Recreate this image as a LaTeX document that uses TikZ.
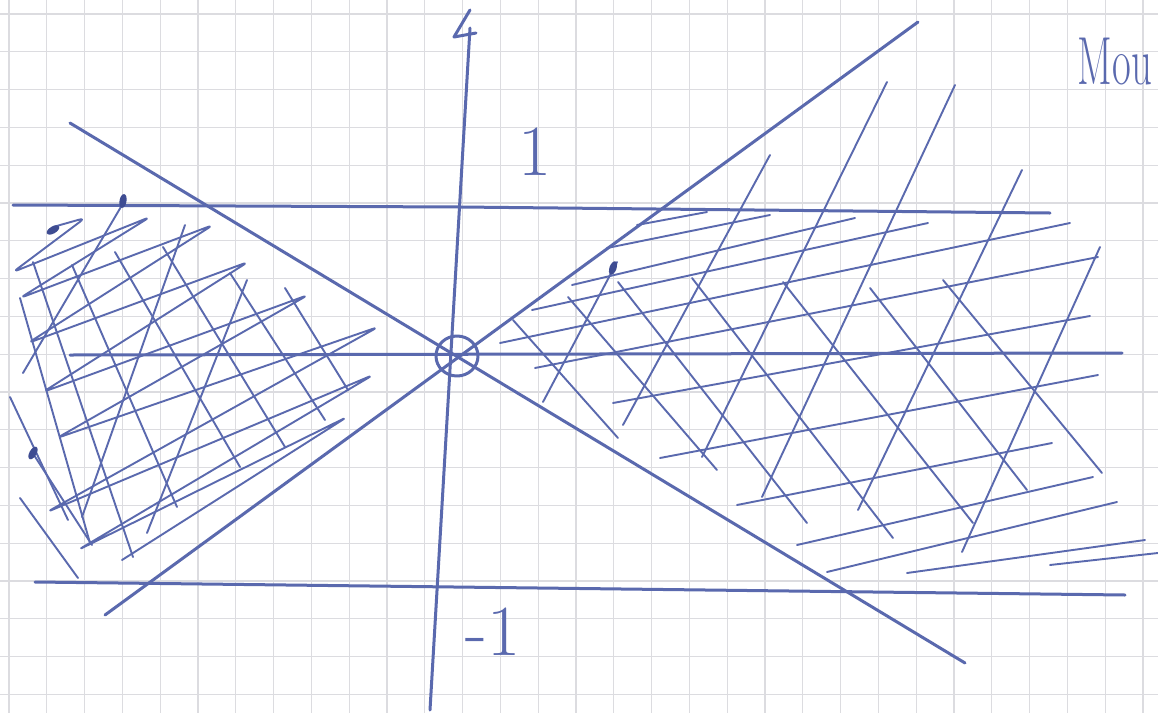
\documentclass[tikz,border=0pt]{standalone}
\usepackage{tikz}
\usetikzlibrary{calc}
\definecolor{ink}{HTML}{5A69AE}
\definecolor{inkd}{HTML}{3E4C92}
\definecolor{sheet}{HTML}{DCDCE0}

\begin{document}
\begin{tikzpicture}[x=0.5pt,y=-0.5pt,
  grid/.style={draw=sheet,line width=0.6pt},
  pen/.style={draw=ink,line width=1.5pt,line cap=round,line join=round},
  hatch/.style={draw=ink,line width=0.95pt,line cap=round,line join=round},
  blot/.style={fill=inkd},
  hand/.style={text=ink,inner sep=0pt}]
\useasboundingbox (0,0) rectangle (1158,713);
% squared paper
\fill[white] (0,0) rectangle (1158,713);
\foreach \i in {0,...,30} \draw[grid] ({9+37.8*\i},0) -- ({9+37.8*\i},713);
\foreach \j in {0,...,18} \draw[grid] (0,{14+37.8*\j}) -- (1158,{14+37.8*\j});
% vertical axis with its hand-made tip
\draw[pen] (430,710) -- (470,28);
\draw[pen] (470,10) -- (454,37) -- (476,33);
% the lines y=1, y=0, y=-1
\draw[pen] (13,205) -- (460,207) -- (1050,213);
\draw[pen] (70,355) -- (1122,353);
\draw[pen] (35,582) -- (1125,595);
% the two diagonals through the origin
\draw[pen] (70,123) -- (965,663);
\draw[pen] (105,615) -- (918,22);
\draw[pen] (457,356) ellipse (21 and 20);
% left wedge: steep strokes
\foreach \ax/\ay/\bx/\by in {33/262/133/557, 72/265/177/507, 115/252/240/467,
    163/247/285/447, 230/273/325/420, 285/288/348/390, 20/298/90/543,
    32/452/92/545, 10/397/68/520, 20/498/78/578,
    23/373/125/200, 82/517/185/225, 147/533/247/280}
  \draw[hatch] (\ax,\ay) -- (\bx,\by);
% left wedge: scribble
\draw[hatch,rounded corners=3pt] (53,227) -- (85,218) -- (13,272) -- (150,217)
  -- (20,298) -- (213,225) -- (28,343) -- (248,262) -- (43,392) -- (308,295)
  -- (57,438) -- (378,327) -- (47,512) -- (373,375) -- (78,550) -- (347,417)
  -- (122,560);
% right wedge: steep strokes
\foreach \ax/\ay/\bx/\by in {543/402/617/262, 623/425/770/155, 702/457/887/82,
    762/497/955/85, 858/510/1022/170, 962/552/1100/247,
    513/320/618/438, 568/297/717/470, 618/282/807/523, 692/278/893/538,
    783/282/973/523, 870/288/1027/490, 943/280/1102/473}
  \draw[hatch] (\ax,\ay) -- (\bx,\by);
% right wedge: long flat strokes
\foreach \ax/\ay/\bx/\by in {637/225/707/212, 607/248/770/215, 572/285/855/218,
    532/310/928/223, 500/343/1070/223, 535/368/1098/257, 613/403/1090/316,
    660/458/1098/375, 737/505/1052/443, 797/545/1093/477, 827/572/1117/502,
    907/573/1145/540, 1050/565/1158/553}
  \draw[hatch] (\ax,\ay) -- (\bx,\by);
% ink blots
\foreach \bx/\by/\rot in {53/230/30, 123/201/80, 33/453/60, 613/268/70}
  \fill[blot,rotate around={\rot:(\bx,\by)}] (\bx,\by) ellipse (7 and 3.5);
% labels
\node[hand,font=\fontsize{36}{36}\selectfont] (one) at (535,152) {1};
\node[hand,font=\fontsize{36}{36}\selectfont] (minusone) at (493,632) {-1};
\node[hand,font=\fontsize{34}{34}\selectfont] (mou) at (1115,62) {\scalebox{0.6}[1]{Mou}};
\end{tikzpicture}
\end{document}
